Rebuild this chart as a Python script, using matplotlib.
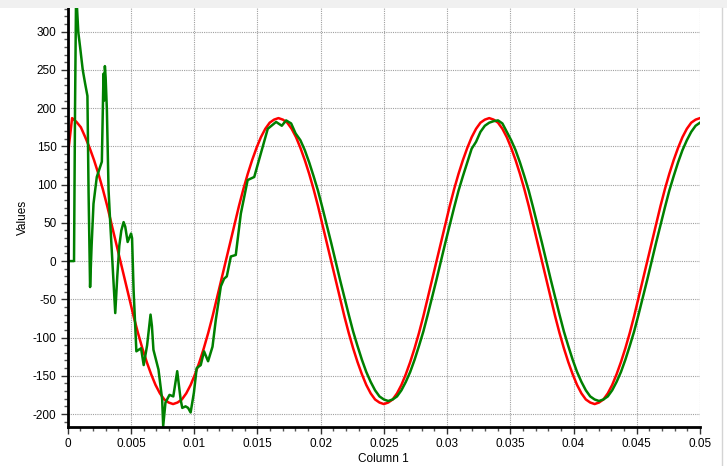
import numpy as np
import matplotlib
matplotlib.use("Agg")
import matplotlib.pyplot as plt
from matplotlib.patches import Rectangle
from matplotlib.lines import Line2D
from matplotlib.ticker import MultipleLocator, FormatStrFormatter

# sample rate of the regular part of both traces (samples per second)
sample_rate = 2880

# red trace, one value per sample from t = 0
red_values = [
    137, 187, 182, 175, 162, 148, 132, 114, 94, 72, 48, 24,
    0, -24, -48, -72, -94, -114, -132, -148, -162, -173, -181, -185,
    -187, -185, -181, -173, -162, -148, -132, -114, -94, -72, -48, -24,
    0, 24, 48, 72, 94, 114, 132, 148, 162, 173, 181, 185,
    187, 185, 181, 173, 162, 148, 132, 114, 94, 72, 48, 24,
    0, -24, -48, -72, -94, -114, -132, -148, -162, -173, -181, -185,
    -187, -185, -181, -173, -162, -148, -132, -114, -94, -72, -48, -24,
    0, 24, 48, 72, 94, 114, 132, 148, 162, 173, 181, 185,
    187, 185, 181, 173, 162, 148, 132, 114, 94, 72, 48, 24,
    0, -24, -48, -72, -94, -114, -132, -148, -162, -173, -181, -185,
    -187, -185, -181, -173, -162, -148, -132, -114, -94, -72, -48, -24,
    0, 24, 48, 72, 94, 114, 132, 148, 162, 173, 181, 185,
    187,
]

# green trace: start-up transient read point by point
green_start_t = [
    0, 0.0005, 0.00058, 0.00066, 0.00074, 0.00084, 0.00098, 0.00119,
    0.00138, 0.00156, 0.00165, 0.00177, 0.00189, 0.00204, 0.0023, 0.0027,
    0.00283, 0.00289, 0.00294, 0.003, 0.0031, 0.00323, 0.00336, 0.0036,
    0.00376, 0.00392, 0.00408, 0.00424, 0.00442, 0.00455, 0.00474, 0.00501,
    0.00509, 0.00521, 0.00543, 0.0058, 0.00601, 0.00628, 0.00655, 0.00666,
    0.00678, 0.00718, 0.00747, 0.00755, 0.00773, 0.00805, 0.00835, 0.00866,
    0.00893, 0.00906, 0.00932, 0.00952, 0.00972, 0.00998, 0.0102, 0.01052,
    0.01078, 0.0111, 0.01145, 0.01171, 0.01211, 0.01237, 0.01258, 0.0129,
    0.01329, 0.01369, 0.01423, 0.01475, 0.01528, 0.01582, 0.01648, 0.01693,
    0.01727, 0.01767, 0.01802,
]
green_start_v = [
    0, 0, 200, 345, 330, 299, 280, 250,
    232, 216, 90, -34, 20, 75, 110, 130,
    245, 210, 255, 240, 197, 93, 51, -20,
    -68, -20, 20, 40, 51, 45, 25, 36,
    30, -38, -118, -114, -136, -110, -70, -85,
    -116, -142, -181, -216, -185, -175, -177, -144,
    -181, -192, -190, -192, -198, -172, -140, -136,
    -118, -131, -112, -77, -33, -23, -20, 6,
    8, 62, 106, 110, 141, 173, 182, 177,
    184, 180, 167,
]

# green trace after the transient, samples 53 .. 144
green_tail_v = [
    158, 145, 129, 111, 92, 70, 47, 24, 0, -24, -47, -70,
    -92, -111, -129, -145, -158, -169, -177, -181, -183, -181, -177, -169,
    -158, -145, -129, -111, -92, -70, -47, -24, 0, 24, 47, 70,
    92, 111, 129, 147, 156, 169, 177, 181,
    183, 184, 180, 169, 158, 145, 129, 111, 92, 70, 47, 24,
    0, -24, -47, -70, -92, -111, -129, -145, -158, -169, -177, -181,
    -183, -181, -177, -169, -158, -145, -129, -111, -92, -70, -47, -24,
    0, 24, 47, 70, 92, 111, 129, 145, 158, 169, 177, 181,
]

red_t = np.arange(len(red_values)) / sample_rate
green_tail_t = np.arange(53, 53 + len(green_tail_v)) / sample_rate
green_t = np.concatenate([green_start_t, green_tail_t])
green_v = np.concatenate([green_start_v, green_tail_v])

plt.rcParams["font.family"] = ["Liberation Sans", "DejaVu Sans"]
plt.rcParams["axes.unicode_minus"] = False

W, H = 727, 466
fig = plt.figure(figsize=(W / 100, H / 100), dpi=100)
fig.patch.set_facecolor("white")

left, right, top, bottom = 67.7, 700, 8, 427
ax = fig.add_axes([left / W, 1 - bottom / H, (right - left) / W, (bottom - top) / H])

# window chrome: grey strip on top, thin border on the right
fig.patches.append(Rectangle((0, 1 - top / H), 1, top / H, transform=fig.transFigure,
                             facecolor="#f0f0f0", edgecolor="none"))
fig.add_artist(Line2D([721.7 / W, 721.7 / W], [0, 1 - top / H], transform=fig.transFigure,
                      color="#d4d4d4", lw=1))

ax.plot(red_t, red_values, color="#ff0000", lw=1.8)
ax.plot(green_t, green_v, color="#008000", lw=1.8)

ax.set_xlim(0, 0.05)
ax.set_ylim(-217, 331)

ax.xaxis.set_major_locator(MultipleLocator(0.005))
ax.xaxis.set_minor_locator(MultipleLocator(0.001))
ax.xaxis.set_major_formatter(FormatStrFormatter("%g"))
ax.yaxis.set_major_locator(MultipleLocator(50))
ax.yaxis.set_minor_locator(MultipleLocator(10))
ax.yaxis.set_major_formatter(FormatStrFormatter("%g"))

ax.grid(True, which="major", linestyle=(0, (1, 1)), color="#a0a0a0", lw=0.8)
ax.set_axisbelow(True)

for s in ["top", "right"]:
    ax.spines[s].set_visible(False)
for s in ["left", "bottom"]:
    ax.spines[s].set_linewidth(2)
    ax.spines[s].set_color("black")

ax.tick_params(axis="both", which="major", direction="out", length=5, width=1,
               labelsize=8.5, color="#333333", pad=3)
ax.tick_params(axis="both", which="minor", direction="out", length=3, width=1,
               color="#555555")

ax.set_xlabel("Column 1", fontsize=8.5)
ax.set_ylabel("Values", fontsize=8.5)
ax.xaxis.set_label_coords(0.5, -0.062)
ax.yaxis.set_label_coords(-0.062, 0.5)

fig.savefig("out.png", dpi=100)
